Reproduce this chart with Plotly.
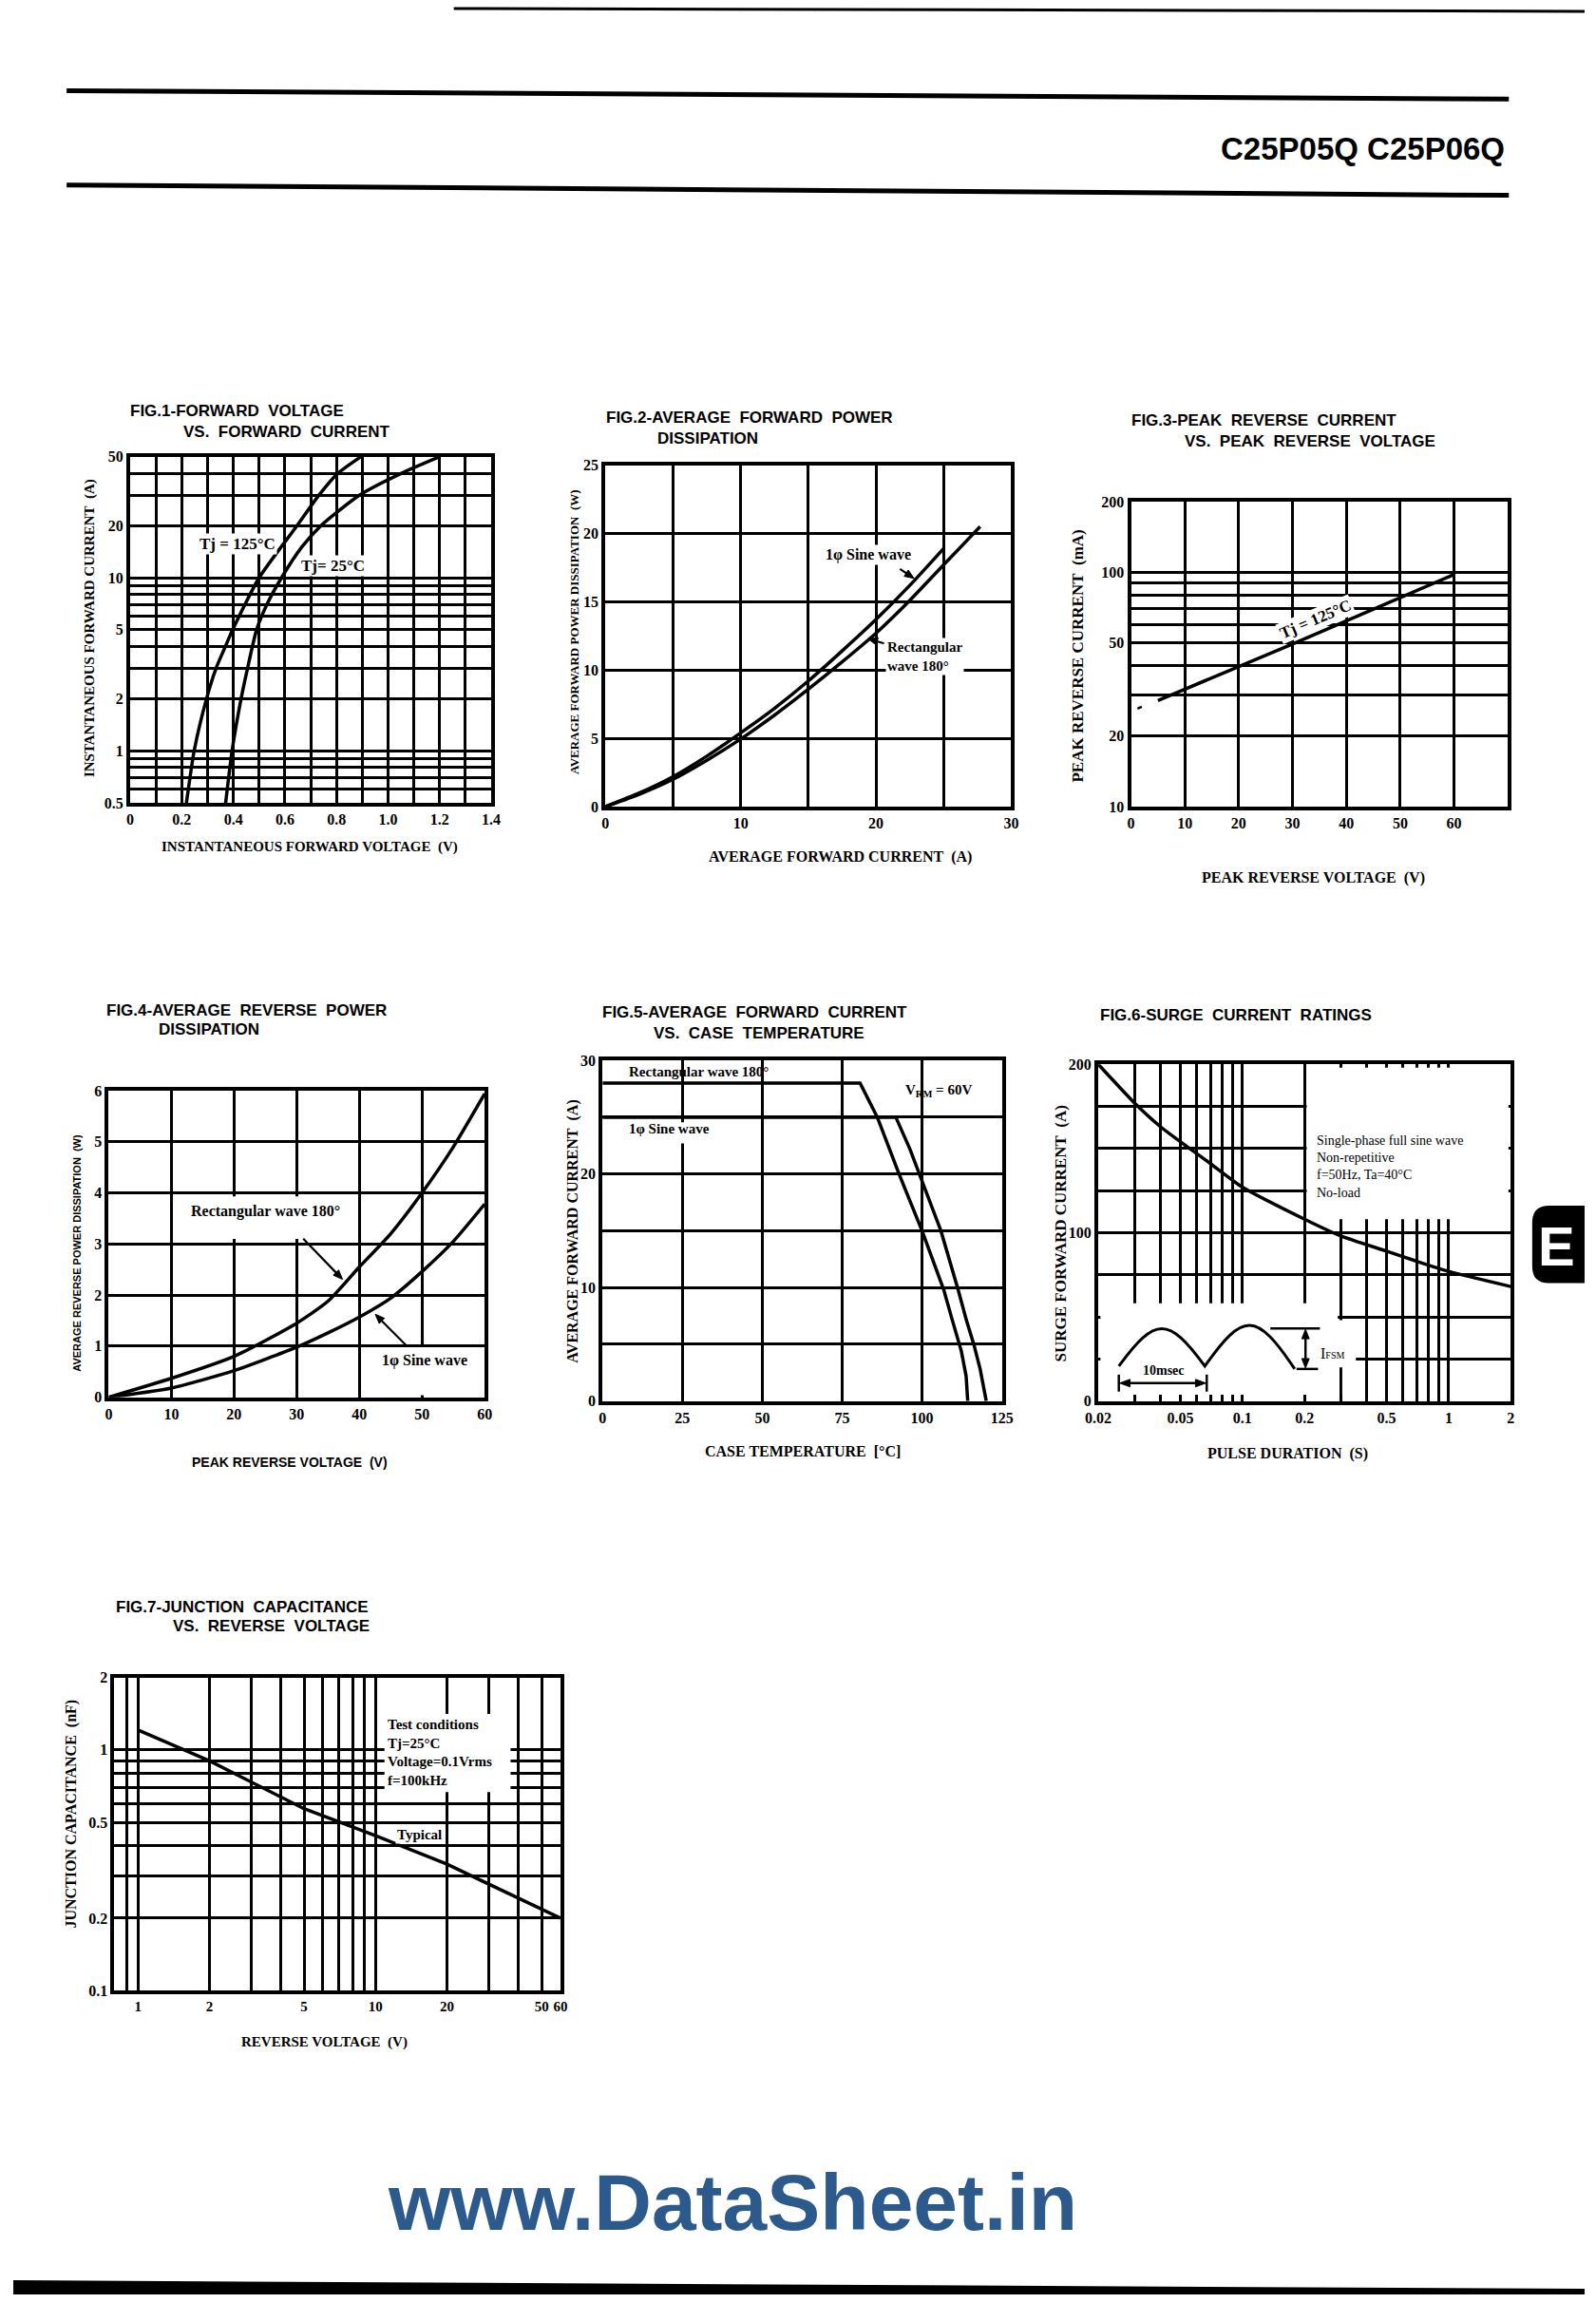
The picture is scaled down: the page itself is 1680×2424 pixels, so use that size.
import math
import plotly.graph_objects as go

W, H = 1680, 2424

# ---------------- data ----------------
# FIG.1 forward voltage vs forward current
f1_i125 = [0.5, 1, 2, 3, 4, 5, 10, 20, 30, 40, 50]
f1_v125 = [0.218, 0.248, 0.296, 0.333, 0.369, 0.397, 0.50, 0.647, 0.732, 0.805, 0.895]
f1_i25 = [0.5, 1, 2, 3, 5, 7, 10, 15, 20, 30, 40, 50]
f1_v25 = [0.37, 0.395, 0.43, 0.455, 0.49, 0.53, 0.587, 0.665, 0.74, 0.89, 1.05, 1.20]
f1_xgrid = [0, 0.1, 0.2, 0.3, 0.4, 0.5, 0.6, 0.7, 0.8, 0.9, 1.0, 1.1, 1.2, 1.3, 1.4]
f1_xtick = [0, 0.2, 0.4, 0.6, 0.8, 1.0, 1.2, 1.4]
f1_xtext = ['0', '0.2', '0.4', '0.6', '0.8', '1.0', '1.2', '1.4']
f1_ygrid = [0.5, 0.6, 0.7, 0.8, 0.9, 1, 2, 3, 4, 5, 6, 7, 8, 9, 10, 20, 30, 40, 50]
f1_ytick = [0.5, 1, 2, 5, 10, 20, 50]
f1_ytext = ['0.5', '1', '2', '5', '10', '20', '50']

# FIG.2 average forward power dissipation
f2_i_sine = [0, 2.5, 5, 7.5, 10, 12.5, 15, 17.5, 20, 22.5, 25]
f2_p_sine = [0, 1.0, 2.2, 3.7, 5.4, 7.2, 9.2, 11.4, 13.7, 16.2, 18.9]
f2_i_rect = [0, 2.5, 5, 7.5, 10, 12.5, 15, 17.5, 20, 22.5, 25, 27.7]
f2_p_rect = [0, 0.9, 2.0, 3.4, 4.95, 6.7, 8.6, 10.6, 12.7, 15.1, 17.7, 20.5]
f2_xgrid = [0, 5, 10, 15, 20, 25, 30]
f2_xtick = [0, 10, 20, 30]
f2_xtext = ['0', '10', '20', '30']
f2_ygrid = [0, 5, 10, 15, 20, 25]
f2_ytick = [0, 5, 10, 15, 20, 25]
f2_ytext = ['0', '5', '10', '15', '20', '25']

# FIG.3 peak reverse current vs peak reverse voltage
f3_v = [5, 30, 60]
f3_i = [28.4, 49.5, 98]
f3_dash_v = [1.2, 2.0]
f3_dash_i = [26.2, 26.7]
f3_xgrid = [0, 10, 20, 30, 40, 50, 60, 70]
f3_xtick = [0, 10, 20, 30, 40, 50, 60]
f3_xtext = ['0', '10', '20', '30', '40', '50', '60']
f3_ygrid = [10, 20, 30, 40, 50, 60, 70, 80, 90, 100, 200]
f3_ytick = [10, 20, 50, 100, 200]
f3_ytext = ['10', '20', '50', '100', '200']

# FIG.4 average reverse power dissipation
f4_v = [0, 10, 20, 30, 35, 40, 45, 50, 55, 60]
f4_rect = [0, 0.37, 0.8, 1.45, 1.88, 2.55, 3.2, 4.0, 4.9, 5.94]
f4_sine = [0, 0.18, 0.52, 0.98, 1.26, 1.57, 1.94, 2.46, 3.05, 3.78]
f4_xgrid = [0, 10, 20, 30, 40, 50, 60]
f4_xtext = ['0', '10', '20', '30', '40', '50', '60']
f4_ygrid = [0, 1, 2, 3, 4, 5, 6]
f4_ytext = ['0', '1', '2', '3', '4', '5', '6']

# FIG.5 average forward current vs case temperature
f5_t_rect = [0, 80.6, 86, 92.8, 100, 106.8, 109.4, 112.3, 113.8, 114.3]
f5_i_rect = [28, 28, 25, 20, 15, 9.8, 7.2, 4.4, 2.2, 0]
f5_t_sine = [0, 91.8, 96.2, 100, 105.9, 111.3, 113.8, 116.2, 118.2, 120.1]
f5_i_sine = [25, 25, 22.2, 19.4, 15, 9.8, 7.2, 5, 2.8, 0]
f5_xgrid = [0, 25, 50, 75, 100, 125]
f5_xtext = ['0', '25', '50', '75', '100', '125']
f5_ygrid = [0, 5, 10, 15, 20, 25, 30]
f5_ytick = [0, 10, 20, 30]
f5_ytext = ['0', '10', '20', '30']

# FIG.6 surge current ratings
f6_t = [0.02, 0.03, 0.04, 0.05, 0.06, 0.07, 0.1, 0.2, 0.3, 0.5, 0.7, 1, 2]
f6_i = [200, 177, 163, 154, 147, 141, 127, 108, 98, 89, 83, 77, 68]
f6_xgrid = [0.02, 0.03, 0.04, 0.05, 0.06, 0.07, 0.08, 0.09, 0.1, 0.2, 0.3, 0.4,
            0.5, 0.6, 0.7, 0.8, 0.9, 1, 2]
f6_xtick = [0.02, 0.05, 0.1, 0.2, 0.5, 1, 2]
f6_xtext = ['0.02', '0.05', '0.1', '0.2', '0.5', '1', '2']
f6_ygrid = [0, 25, 50, 75, 100, 125, 150, 175, 200]
f6_ytick = [0, 100, 200]
f6_ytext = ['0', '100', '200']

# FIG.7 junction capacitance vs reverse voltage
f7_v = [1, 2, 5, 10, 20, 60]
f7_c = [1.21, 0.90, 0.57, 0.44, 0.335, 0.20]
f7_xgrid = [0.9, 1, 2, 3, 4, 5, 6, 7, 8, 9, 10, 20, 30, 40, 50, 60]
f7_xtick = [1, 2, 5, 10, 20, 50, 60]
f7_xtext = ['1', '2', '5', '10', '20', '50', '60']
f7_ygrid = [0.1, 0.2, 0.3, 0.4, 0.5, 0.6, 0.7, 0.8, 0.9, 1, 2]
f7_ytick = [0.1, 0.2, 0.5, 1, 2]
f7_ytext = ['0.1', '0.2', '0.5', '1', '2']

# ---------------- styling ----------------
SANS = 'Liberation Sans, Arial, Helvetica, sans-serif'
SERIF = 'Liberation Serif, Times New Roman, serif'
TICKFONT = dict(family=SERIF, size=16, color='black', weight='bold')

L10 = math.log10

fig = go.Figure()
layout = dict(width=W, height=H, margin=dict(l=0, r=0, t=0, b=0),
              paper_bgcolor='white', plot_bgcolor='white', showlegend=False)
annotations = []
shapes = []


def X(px):
    return px / W


def Y(py):
    return 1 - py / H


def labels(grid, tick, text):
    return [text[tick.index(v)] if v in tick else '' for v in grid]


def add_panel(n, box, xr, yr, xtype, ytype, xgrid, xticktext, ygrid, yticktext, xticks=''):
    L, R, T, B = box
    sfx = '' if n == 1 else str(n)
    common = dict(showline=True, linecolor='black', linewidth=4, mirror=True,
                  showgrid=True, gridcolor='black', gridwidth=2.6, zeroline=False,
                  fixedrange=True, tickmode='array', tickfont=TICKFONT)
    layout['xaxis' + sfx] = dict(common, domain=[L / W, R / W], range=xr, type=xtype,
                                 anchor='y' + sfx, tickvals=xgrid, ticktext=xticktext,
                                 ticks=xticks, ticklen=7, tickwidth=3, tickcolor='black')
    layout['yaxis' + sfx] = dict(common, domain=[1 - B / H, 1 - T / H], range=yr, type=ytype,
                                 anchor='x' + sfx, tickvals=ygrid, ticktext=yticktext, ticks='')


def line(n, x, y, width=3.5, spline=True):
    sfx = '' if n == 1 else str(n)
    fig.add_trace(go.Scatter(x=x, y=y, xaxis='x' + sfx, yaxis='y' + sfx, mode='lines',
                             line=dict(color='black', width=width,
                                       shape='spline' if spline else 'linear', smoothing=0.6),
                             hoverinfo='skip', showlegend=False))


def ptxt(text, x, y, size, family=SANS, xanchor='left', angle=0, color='black', weight='bold'):
    annotations.append(dict(text=text, x=X(x), y=Y(y), xref='paper', yref='paper',
                            showarrow=False, xanchor=xanchor, yanchor='middle', textangle=angle,
                            font=dict(family=family, size=size, color=color, weight=weight)))


def dtxt(n, text, x, y, size, xanchor='center', bg=None, angle=0, family=SERIF, align='left',
         yanchor='middle'):
    sfx = '' if n == 1 else str(n)
    d = dict(text=text, x=x, y=y, xref='x' + sfx, yref='y' + sfx, showarrow=False,
             xanchor=xanchor, yanchor=yanchor, textangle=angle, align=align, borderpad=1,
             font=dict(family=family, size=size, color='black', weight='bold'))
    if bg:
        d['bgcolor'] = bg
    annotations.append(d)


def mask(n, x0, x1, y0, y1):
    # shape coordinates are given in data values (also on log axes)
    sfx = '' if n == 1 else str(n)
    shapes.append(dict(type='rect', xref='x' + sfx, yref='y' + sfx, x0=x0, x1=x1, y0=y0, y1=y1,
                       fillcolor='white', line=dict(width=0), layer='between'))


def pline(x0, y0, x1, y1, w=2.5):
    shapes.append(dict(type='line', xref='paper', yref='paper', x0=X(x0), y0=Y(y0),
                       x1=X(x1), y1=Y(y1), line=dict(color='black', width=w)))


def ppoly(pts):
    path = 'M' + ' L'.join('{},{}'.format(X(a), Y(b)) for a, b in pts) + ' Z'
    shapes.append(dict(type='path', xref='paper', yref='paper', path=path,
                       fillcolor='black', line=dict(color='black', width=1)))


def parrow(tx, ty, hx, hy, size=10, half=4, w=2.2):
    """Leader arrow from a label (tail) to a curve (head), page pixel coords."""
    dx, dy = hx - tx, hy - ty
    ln = math.hypot(dx, dy)
    ux, uy = dx / ln, dy / ln
    bx, by = hx - ux * size, hy - uy * size
    pline(tx, ty, bx + ux * 2, by + uy * 2, w)
    ppoly([(hx, hy), (bx - uy * half, by + ux * half), (bx + uy * half, by - ux * half)])


# ---------------- FIG.1 ----------------
add_panel(1, (125, 511, 476, 843), [0, 1.4], [L10(0.5), L10(50)], 'linear', 'log',
          f1_xgrid, labels(f1_xgrid, f1_xtick, f1_xtext),
          f1_ygrid, labels(f1_ygrid, f1_ytick, f1_ytext))
line(1, f1_v125, f1_i125)
line(1, f1_v25, f1_i25)
dtxt(1, 'Tj = 125°C', 0.415, 1.196, 17, bg='white')
dtxt(1, 'Tj= 25°C', 0.787, 1.071, 17, bg='white')
ptxt('FIG.1-FORWARD\u00a0\u00a0VOLTAGE', 123, 428, 17)
ptxt('VS.\u00a0\u00a0FORWARD\u00a0\u00a0CURRENT', 180, 450, 17)
ptxt('INSTANTANEOUS FORWARD VOLTAGE\u00a0\u00a0(V)', 317, 890, 15, SERIF, 'center')
ptxt('INSTANTANEOUS FORWARD CURRENT\u00a0\u00a0(A)', 82, 658, 15, SERIF, 'center', -90)

# ---------------- FIG.2 ----------------
add_panel(2, (633, 1067, 485, 847), [0, 30], [0, 25], 'linear', 'linear',
          f2_xgrid, labels(f2_xgrid, f2_xtick, f2_xtext),
          f2_ygrid, labels(f2_ygrid, f2_ytick, f2_ytext))
line(2, f2_i_sine, f2_p_sine)
line(2, f2_i_rect, f2_p_rect)
dtxt(2, '1φ Sine wave', 19.4, 18.4, 16, bg='white')
parrow(948, 595, 963, 605)
dtxt(2, 'Rectangular<br>wave 180°', 20.7, 11.0, 15, xanchor='left', bg='white')
parrow(931, 674, 914, 669)
ptxt('FIG.2-AVERAGE\u00a0\u00a0FORWARD\u00a0\u00a0POWER', 632, 435, 17)
ptxt('DISSIPATION', 687, 457, 17)
ptxt('AVERAGE FORWARD CURRENT\u00a0\u00a0(A)', 884, 900, 16, SERIF, 'center')
ptxt('AVERAGE FORWARD POWER DISSIPATION\u00a0\u00a0(W)', 600, 662, 13, SERIF, 'center', -90)

# ---------------- FIG.3 ----------------
add_panel(3, (1195, 1598, 524, 847), [0, 70], [1, L10(200)], 'linear', 'log',
          f3_xgrid, labels(f3_xgrid, f3_xtick, f3_xtext),
          f3_ygrid, labels(f3_ygrid, f3_ytick, f3_ytext))
line(3, f3_v, f3_i, spline=False)
line(3, f3_dash_v, f3_dash_i, width=2.5, spline=False)
dtxt(3, 'Tj = 125°C', 34.4, 1.80, 17, bg='white', angle=-23)
ptxt('FIG.3-PEAK\u00a0\u00a0REVERSE\u00a0\u00a0CURRENT', 1193, 438, 17)
ptxt('VS.\u00a0\u00a0PEAK\u00a0\u00a0REVERSE\u00a0\u00a0VOLTAGE', 1250, 460, 17)
ptxt('PEAK REVERSE VOLTAGE\u00a0\u00a0(V)', 1390, 922, 16, SERIF, 'center')
ptxt('PEAK REVERSE CURRENT\u00a0\u00a0(mA)', 1138, 687, 17, SERIF, 'center', -90)

# ---------------- FIG.4 ----------------
add_panel(4, (102, 504, 1148, 1473), [0, 60], [0, 6], 'linear', 'linear',
          f4_xgrid, f4_xtext, f4_ygrid, f4_ytext)
line(4, f4_v, f4_rect)
line(4, f4_v, f4_sine)
mask(4, 11, 39, 3.1, 3.93)
mask(4, 49.3, 50.7, 0.04, 0.98)
dtxt(4, 'Rectangular wave 180°', 24.95, 3.63, 16)
parrow(310, 1305, 352, 1348)
dtxt(4, '1φ Sine wave', 50.45, 0.71, 16)
parrow(420, 1418, 387, 1385)
ptxt('FIG.4-AVERAGE\u00a0\u00a0REVERSE\u00a0\u00a0POWER', 98, 1063, 17)
ptxt('DISSIPATION', 153, 1083, 17)
ptxt('PEAK REVERSE VOLTAGE\u00a0\u00a0(V)', 296, 1542, 14, SANS, 'center')
ptxt('AVERAGE REVERSE POWER DISSIPATION\u00a0\u00a0(W)', 68, 1320, 11, SANS, 'center', -90)

# ---------------- FIG.5 ----------------
add_panel(5, (630, 1057, 1116, 1477), [0, 125], [0, 30], 'linear', 'linear',
          f5_xgrid, f5_xtext, f5_ygrid, labels(f5_ygrid, f5_ytick, f5_ytext))
line(5, f5_t_rect, f5_i_rect, spline=False)
line(5, f5_t_sine, f5_i_sine, spline=False)
mask(5, 23.5, 26.5, 22.7, 24.55)
dtxt(5, 'Rectangular wave 180°', 7.8, 28.97, 15, xanchor='left')
dtxt(5, '1φ Sine wave', 7.8, 23.95, 15, xanchor='left')
dtxt(5, 'V<sub>RM</sub> = 60V', 94.2, 27.3, 15, xanchor='left')
ptxt('FIG.5-AVERAGE\u00a0\u00a0FORWARD\u00a0\u00a0CURRENT', 628, 1065, 17)
ptxt('VS.\u00a0\u00a0CASE\u00a0\u00a0TEMPERATURE', 683, 1087, 17)
ptxt('CASE TEMPERATURE\u00a0\u00a0[°C]', 844, 1530, 16, SERIF, 'center')
ptxt('AVERAGE FORWARD CURRENT\u00a0\u00a0(A)', 598, 1297, 16, SERIF, 'center', -90)

# ---------------- FIG.6 ----------------
add_panel(6, (1160, 1601, 1120, 1477), [L10(0.02), L10(2)], [0, 200], 'log', 'linear',
          f6_xgrid, labels(f6_xgrid, f6_xtick, f6_xtext),
          f6_ygrid, labels(f6_ygrid, f6_ytick, f6_ytext), xticks='inside')
line(6, f6_t, f6_i)
mask(6, 0.205, 1.95, 108, 198)
mask(6, 0.0205, 0.29, 1.5, 58)
mask(6, 0.305, 0.355, 1.5, 40)
mask(6, 0.28, 0.33, 20, 48)
annotations.append(dict(
    text='Single-phase full sine wave<br>Non-repetitive<br>f=50Hz, Ta=40°C<br>No-load',
    x=L10(0.224), y=160, xref='x6', yref='y6', showarrow=False, xanchor='left', yanchor='top',
    align='left', font=dict(family=SERIF, size=14, color='black')))
# half-sine inset
shapes.append(dict(type='path', xref='paper', yref='paper', line=dict(color='black', width=3),
                   path='M{},{} C{},{} {},{} {},{} C{},{} {},{} {},{}'.format(
                       X(1182), Y(1440), X(1221), Y(1387), X(1235), Y(1387), X(1274), Y(1440),
                       X(1315), Y(1382), X(1329), Y(1382), X(1370), Y(1443))))
# 10 msec dimension
pline(1182, 1449, 1182, 1467)
pline(1276, 1449, 1276, 1467)
pline(1190, 1458, 1268, 1458)
ppoly([(1183, 1458), (1194, 1454), (1194, 1462)])
ppoly([(1275, 1458), (1264, 1454), (1264, 1462)])
ptxt('10msec', 1230, 1445, 14, SERIF, 'center')
# IFSM dimension
pline(1344, 1400, 1397, 1400)
pline(1372, 1443, 1395, 1443)
pline(1381.6, 1408, 1381.6, 1435)
ppoly([(1381.6, 1401), (1377.6, 1411), (1385.6, 1411)])
ppoly([(1381.6, 1442), (1377.6, 1432), (1385.6, 1432)])
ptxt("I<span style='font-size:10px'>FSM</span>", 1396, 1427, 16, SERIF, 'left', weight='normal')
ptxt('FIG.6-SURGE\u00a0\u00a0CURRENT\u00a0\u00a0RATINGS', 1160, 1068, 17)
ptxt('PULSE DURATION\u00a0\u00a0(S)', 1363, 1533, 16, SERIF, 'center')
ptxt('SURGE FORWARD CURRENT\u00a0\u00a0(A)', 1120, 1300, 17, SERIF, 'center', -90)

# ---------------- FIG.7 ----------------
add_panel(7, (108, 585, 1770, 2102), [L10(0.795), L10(60)], [-1, L10(2)], 'log', 'log',
          f7_xgrid, labels(f7_xgrid, f7_xtick, f7_xtext),
          f7_ygrid, labels(f7_ygrid, f7_ytick, f7_ytext))
layout['xaxis7']['tickfont'] = dict(TICKFONT, size=15)
line(7, f7_v, f7_c, spline=False)
mask(7, 10.9, 37, 0.668, 1.41)
annotations.append(dict(
    text='Test conditions<br>Tj=25°C<br>Voltage=0.1Vrms<br>f=100kHz',
    x=L10(11.0), y=L10(1.40), xref='x7', yref='y7', showarrow=False, xanchor='left',
    yanchor='top', align='left', font=dict(family=SERIF, size=15, color='black', weight='bold')))
dtxt(7, 'Typical', L10(15.3), L10(0.445), 15, bg='white')
ptxt('FIG.7-JUNCTION\u00a0\u00a0CAPACITANCE', 108, 1695, 17)
ptxt('VS.\u00a0\u00a0REVERSE\u00a0\u00a0VOLTAGE', 169, 1716, 17)
ptxt('REVERSE VOLTAGE\u00a0\u00a0(V)', 333, 2157, 15, SERIF, 'center')
ptxt('JUNCTION CAPACITANCE\u00a0\u00a0(nF)', 62, 1915, 16, SERIF, 'center', -90)

# ---------------- page furniture ----------------
pline(471, 1, 1680, 4, 3)
pline(57, 88, 1599, 97, 5)
pline(57, 188, 1599, 199, 5)
ptxt('C25P05Q C25P06Q', 1597, 150, 33, SANS, 'right')
shapes.append(dict(type='path', xref='paper', yref='paper', fillcolor='black',
                   line=dict(width=0),
                   path='M{},{} L{},{} L{},{} L{},{} Z'.format(
                       X(0), Y(2409), X(1680), Y(2418), X(1680), Y(2424), X(0), Y(2424))))
ptxt('www.DataSheet.in', 769, 2326, 84, SANS, 'center', color='#2d5a8c')
# "E" index tab
shapes.append(dict(type='path', xref='paper', yref='paper', fillcolor='black',
                   line=dict(width=0),
                   path='M{},{} L{},{} Q{},{} {},{} L{},{} Q{},{} {},{} L{},{} Z'.format(
                       X(1680), Y(1270), X(1642), Y(1270), X(1624), Y(1270), X(1624), Y(1288),
                       X(1624), Y(1334), X(1624), Y(1352), X(1642), Y(1352), X(1680), Y(1352))))
ptxt('E', 1650, 1313, 58, SANS, 'center', color='white')

layout['annotations'] = annotations
layout['shapes'] = shapes
fig.update_layout(**layout)
fig.write_html('out.html')
